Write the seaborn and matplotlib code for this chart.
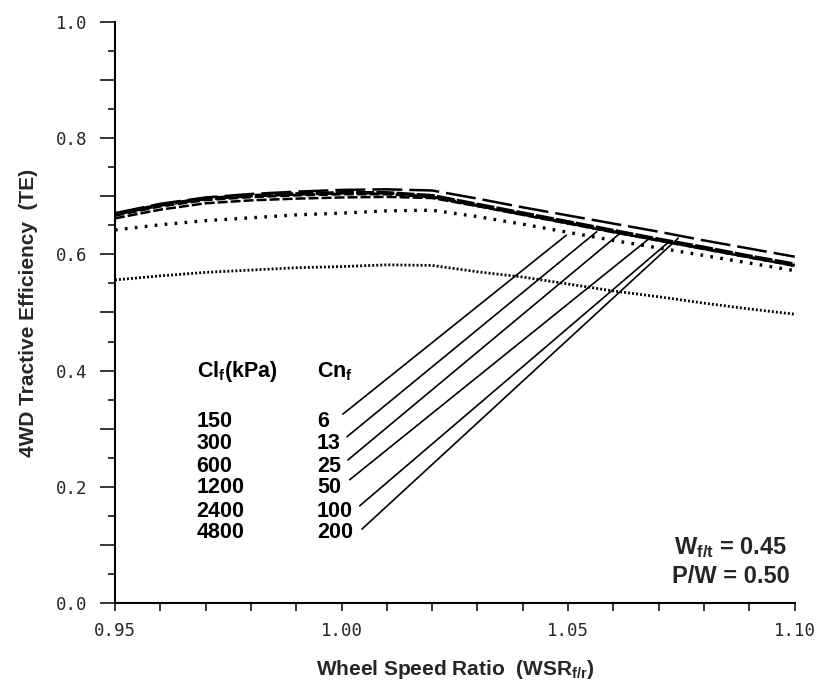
import matplotlib
matplotlib.use("Agg")
import matplotlib.pyplot as plt
import seaborn as sns
import pandas as pd
from matplotlib.ticker import MultipleLocator, FuncFormatter

# ---- data ----
wsr = [0.95, 0.96, 0.97, 0.98, 0.99, 1.00, 1.01, 1.02, 1.03, 1.04, 1.05, 1.06, 1.07, 1.08, 1.09, 1.10]
te_4800 = [0.671, 0.687, 0.698, 0.704, 0.708, 0.711, 0.712, 0.710, 0.696, 0.681, 0.667, 0.653, 0.639, 0.624, 0.610, 0.596]
te_2400 = [0.669, 0.685, 0.696, 0.701, 0.704, 0.706, 0.706, 0.701, 0.686, 0.671, 0.656, 0.641, 0.626, 0.612, 0.597, 0.583]
te_1200 = [0.667, 0.683, 0.694, 0.699, 0.702, 0.704, 0.704, 0.699, 0.684, 0.669, 0.654, 0.639, 0.624, 0.610, 0.595, 0.581]
te_600 = [0.662, 0.677, 0.688, 0.693, 0.696, 0.698, 0.699, 0.697, 0.683, 0.668, 0.653, 0.638, 0.624, 0.609, 0.595, 0.580]
te_300 = [0.642, 0.651, 0.658, 0.663, 0.668, 0.671, 0.675, 0.676, 0.665, 0.652, 0.638, 0.624, 0.611, 0.598, 0.585, 0.572]
te_150 = [0.556, 0.563, 0.569, 0.573, 0.577, 0.579, 0.582, 0.581, 0.570, 0.561, 0.549, 0.537, 0.527, 0.516, 0.506, 0.497]

ci_labels = ["150", "300", "600", "1200", "2400", "4800"]
cn_labels = ["6", "13", "25", "50", "100", "200"]

# leader lines: (x_low, te_low) -> (x_high, te_high)
lead_x0 = [1.0003, 1.0012, 1.0014, 1.0018, 1.0040, 1.0045]
lead_y0 = [0.325, 0.286, 0.246, 0.212, 0.167, 0.127]
lead_x1 = [1.0496, 1.0563, 1.0614, 1.0680, 1.0720, 1.0743]
lead_y1 = [0.633, 0.639, 0.636, 0.628, 0.620, 0.628]

# ---- style ----
sns.set_style("ticks")
plt.rcParams["font.family"] = ["Liberation Sans", "DejaVu Sans"]
plt.rcParams["mathtext.fontset"] = "custom"
plt.rcParams["mathtext.rm"] = "Liberation Sans:bold"
plt.rcParams["mathtext.it"] = "Liberation Sans:bold"
plt.rcParams["mathtext.bf"] = "Liberation Sans:bold"
plt.rcParams["mathtext.default"] = "rm"

fig = plt.figure(figsize=(8.21, 6.89), dpi=100)
ax = fig.add_axes([0.140, 0.125, 0.828, 0.843])

series = [
    ("4800", te_4800, (12, 2.8), 1.8),
    ("2400", te_2400, (5, 0.6), 2.6),
    ("1200", te_1200, (3, 1.2), 2.2),
    ("600", te_600, (4, 1.2), 1.8),
    ("300", te_300, (0.8, 2.2), 2.4),
    ("150", te_150, (0.7, 0.75), 2.0),
]
for name, vals, dash, lw in series:
    df = pd.DataFrame({"WSR": wsr, "TE": vals})
    sns.lineplot(data=df, x="WSR", y="TE", ax=ax, color="black", linewidth=lw,
                 legend=False)
    ax.lines[-1].set_dashes(dash)
    ax.lines[-1].set_dash_capstyle("butt")

for x0, y0, x1, y1 in zip(lead_x0, lead_y0, lead_x1, lead_y1):
    ax.plot([x0, x1], [y0, y1], color="black", linewidth=1.2)

ax.set_xlim(0.95, 1.10)
ax.set_ylim(0.0, 1.0)
ax.xaxis.set_major_locator(MultipleLocator(0.05))
ax.xaxis.set_minor_locator(MultipleLocator(0.01))
ax.yaxis.set_major_locator(MultipleLocator(0.1))
ax.yaxis.set_minor_locator(MultipleLocator(0.05))
ax.xaxis.set_major_formatter(FuncFormatter(lambda v, p: f"{v:.2f}"))
ax.yaxis.set_major_formatter(FuncFormatter(
    lambda v, p: f"{v:.1f}" if abs(round(v * 10) % 2) == 0 else ""))
for lab in ax.get_xticklabels() + ax.get_yticklabels():
    lab.set_fontfamily("DejaVu Sans Mono")
    lab.set_fontsize(12.5)
ax.tick_params(axis="y", which="major", length=11, width=1.3, direction="out", pad=9)
ax.tick_params(axis="y", which="minor", length=5, width=1.3, direction="out")
ax.tick_params(axis="x", which="both", length=6, width=1.3, direction="out", pad=8)
sns.despine(ax=ax)
for s in ["left", "bottom"]:
    ax.spines[s].set_linewidth(1.5)
    ax.spines[s].set_color("black")

ax.set_xlabel(r"Wheel Speed Ratio  (WSR$_{f/r}$)", fontsize=15, fontweight="bold", labelpad=13)
ax.set_ylabel("4WD Tractive Efficiency  (TE)", fontsize=15, fontweight="bold", labelpad=13)

# legend-like text table
tk = dict(fontsize=15.5, fontweight="bold", color="black", va="center", ha="left")
ax.text(0.968, 0.398, r"Cl$_f$(kPa)", **tk)
ax.text(0.9946, 0.398, r"Cn$_f$", **tk)
row_y = [0.312, 0.275, 0.235, 0.198, 0.158, 0.121]
for yv, ci, cn in zip(row_y, ci_labels, cn_labels):
    ax.text(0.968, yv, ci, **tk)
    ax.text(0.9946, yv, cn, **tk)

ax.text(1.0984, 0.096, r"W$_{f/t}$ = 0.45", fontsize=17, fontweight="bold", ha="right", va="center")
ax.text(1.0990, 0.045, "P/W = 0.50", fontsize=17, fontweight="bold", ha="right", va="center")

fig.savefig("out.png", dpi=100, facecolor="white")
